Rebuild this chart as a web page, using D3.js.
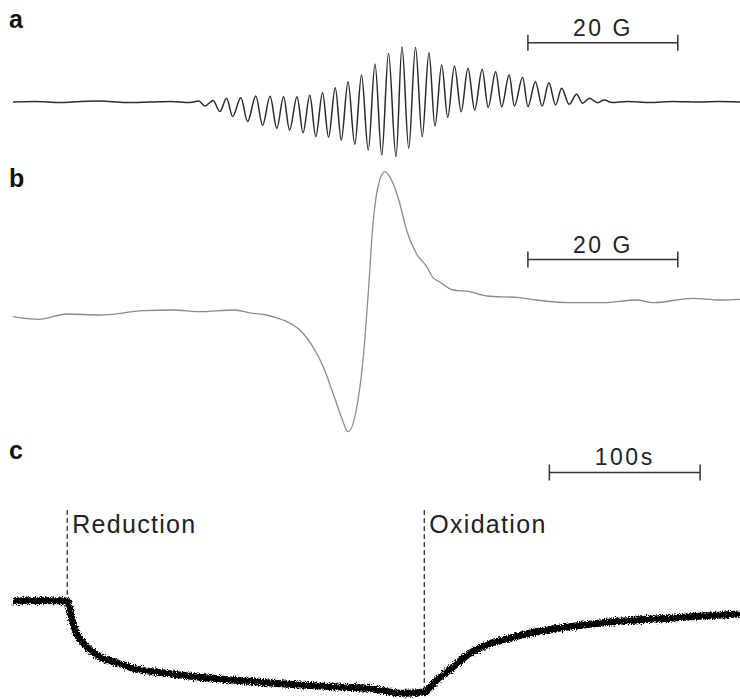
<!DOCTYPE html>
<html>
<head>
<meta charset="utf-8">
<script src="https://cdn.jsdelivr.net/npm/d3@7"></script>
<style>
  body { margin: 0; background: #fff; }
  text { font-family: "Liberation Sans", Arial, Helvetica, sans-serif; }
</style>
</head>
<body>
<svg id="chart"></svg>
<script>
// a: resolved EPR spectrum (field in G, signal in a.u.)
const fieldA = [0, 3, 6.3, 9, 11.6, 15, 18.3, 21, 23.6, 24.8, 25.6, 26.7, 27.6, 28.5, 29.3, 30.4, 31.3, 32.4, 33.3,
  34.3, 35.2, 36.1, 36.9, 37.9, 38.7, 39.6, 40.4, 41.3, 42.1, 43.0, 43.8, 44.7, 45.6, 46.5, 47.4, 48.3, 49.2,
  50.1, 51.1, 51.9, 52.8, 53.7, 54.6, 55.5, 56.3, 57.2, 58.0, 58.9, 59.8, 60.7, 61.6, 62.6, 63.4, 64.4, 65.2,
  66.2, 66.9, 68.0, 68.7, 69.7, 70.6, 71.5, 72.4, 73.2, 74.2, 75.2, 76.0, 76.9, 78.0, 78.9, 79.9, 82, 85, 88,
  91.6, 94, 97];
const signalA = [0, 0.05, -0.05, 0.05, 0.1, -0.05, 0, 0.05, -0.05, 0.1, -0.4, 0.15, -0.95, 0.37, -1.45, 0.43, -1.95, 0.6, -2.35,
  0.57, -2.63, 0.53, -2.8, 0.53, -3.07, 0.67, -3.47, 0.93, -3.53, 1.43, -3.8, 2.03, -4.23, 2.7, -4.8, 3.8, -5.3,
  4.87, -5.47, 5.53, -4.63, 5.47, -3.47, 4.93, -2.4, 3.7, -1.53, 3.6, -0.97, 3.37, -0.8, 3.27, -0.53, 3.03, -0.47,
  2.7, -0.4, 2.47, -0.47, 2.03, -0.4, 1.93, -0.3, 1.37, -0.23, 0.77, -0.13, 0.37, -0.07, 0.2, -0.05, 0.05, -0.05, 0.05,
  0, 0.05, 0];

// b: unresolved EPR spectrum
const fieldB = [0, 3.4, 7.2, 11.6, 17.4, 21.4, 24.9, 29.4, 32.0, 33.8, 36.0, 37.4, 38.7, 40.0, 41.4, 42.7, 43.8, 44.7,
  45.8, 46.7, 47.4, 48.0, 48.7, 49.6, 50.7, 51.6, 52.5, 53.8, 55.2, 56.0, 56.9, 58.7, 60.9, 63.2, 67.6, 69.8,
  74.3, 78.7, 83.2, 85.4, 90.7, 94.3, 97];
const signalB = [-0.67, -0.93, -0.4, -0.5, -0.07, 0, -0.17, 0, -0.33, -0.5, -1.0, -1.5, -2.33, -3.67, -5.67, -8.33, -10.67, -12.17,
  -10.0, -5.0, 1.67, 8.33, 12.33, 13.83, 12.67, 10.67, 8.0, 5.67, 4.33, 3.27, 2.83, 2.0, 1.83, 1.4, 1.23, 1.0,
  0.73, 0.73, 1.0, 0.73, 1.17, 1.0, 1.07];

// c: kinetics (time in s)
const timeC = [0, 17.9, 36.0, 36.7, 39.0, 42.3, 48.9, 57.7, 68.8, 79.8, 102, 124.1, 146.2, 168.3, 190.4, 212.5, 234.7,
  259, 272.9, 281.2, 292.2, 303.2, 314.3, 325.3, 347.5, 369.6, 391.7, 413.9, 436, 458, 482.4];
const signalC = [9.9, 9.95, 9.9, 9.67, 8.0, 6.67, 5.33, 4.33, 3.73, 3.17, 2.67, 2.27, 2.0, 1.73, 1.5, 1.33, 1.17,
  0.67, 0.8, 2.0, 3.33, 4.67, 5.5, 6.0, 6.83, 7.33, 7.73, 8.0, 8.17, 8.4, 8.6];

const events = [{t: 36.0, label: "Reduction"}, {t: 272.9, label: "Oxidation"}];
const panelLabels = ["a", "b", "c"];

const width = 740, height = 699;
const svg = d3.select("#chart").attr("width", width).attr("height", height);

// noisy look of the chart recorder trace in c
const defs = svg.append("defs");
const rough = defs.append("filter").attr("id", "rough")
    .attr("x", "-5%").attr("y", "-20%").attr("width", "110%").attr("height", "140%");
rough.append("feTurbulence").attr("type", "fractalNoise").attr("baseFrequency", "0.9")
    .attr("numOctaves", 2).attr("seed", 3).attr("result", "n");
rough.append("feDisplacementMap").attr("in", "SourceGraphic").attr("in2", "n")
    .attr("scale", 6).attr("xChannelSelector", "R").attr("yChannelSelector", "G");

const xField = d3.scaleLinear().domain([0, 97]).range([13, 740]);
const xTime = d3.scaleLinear().domain([0, 482.4]).range([13, 740]);
const yA = d3.scaleLinear().domain([-6, 6]).range([162, 42]);
const yB = d3.scaleLinear().domain([-13, 14]).range([440, 170]);
const yC = d3.scaleLinear().domain([0, 10]).range([700, 600]);

function trace(xs, ys, x, y) {
  return d3.line()
    .x((d, i) => x(xs[i]))
    .y(d => y(d))
    .curve(d3.curveMonotoneX)(ys);
}

svg.append("path")
  .attr("d", trace(fieldA, signalA, xField, yA))
  .attr("fill", "none").attr("stroke", "#2a2a2a").attr("stroke-width", 1.5);

svg.append("path")
  .attr("d", trace(fieldB, signalB, xField, yB))
  .attr("fill", "none").attr("stroke", "#8a8a8a").attr("stroke-width", 1.3);

svg.append("path")
  .attr("d", trace(timeC, signalC, xTime, yC))
  .attr("fill", "none").attr("stroke", "#000").attr("stroke-width", 7)
  .attr("filter", "url(#rough)");

// event markers
events.forEach((e, i) => {
  const x = xTime(e.t);
  const yEnd = yC(signalC[timeC.indexOf(e.t)]) - 3;
  svg.append("line")
    .attr("x1", x).attr("x2", x).attr("y1", 510).attr("y2", yEnd)
    .attr("stroke", "#222").attr("stroke-width", 1.2).attr("stroke-dasharray", "5,3");
  svg.append("text")
    .attr("x", x + 5).attr("y", 533)
    .attr("font-size", 25).attr("letter-spacing", 1.3).attr("fill", "#222")
    .text(e.label);
});

// scale bars
function scaleBar(x, from, span, y, label, textY) {
  const g = svg.append("g").attr("stroke", "#333").attr("stroke-width", 1.5);
  g.append("line").attr("x1", x(from)).attr("x2", x(from + span)).attr("y1", y).attr("y2", y);
  g.append("line").attr("x1", x(from)).attr("x2", x(from)).attr("y1", y - 8).attr("y2", y + 8);
  g.append("line").attr("x1", x(from + span)).attr("x2", x(from + span)).attr("y1", y - 8).attr("y2", y + 8);
  svg.append("text")
    .attr("x", x(from + span / 2)).attr("y", textY)
    .attr("text-anchor", "middle")
    .attr("font-size", 23).attr("letter-spacing", 2.5).attr("fill", "#222")
    .text(label);
}
scaleBar(xField, 68.7, 20, 42.7, "20 G", 36);
scaleBar(xField, 68.7, 20, 259.5, "20 G", 253);
scaleBar(xTime, 355.9, 100, 472.5, "100s", 465);

svg.selectAll("text.panel")
  .data(panelLabels)
  .join("text")
  .attr("class", "panel")
  .attr("x", 9)
  .attr("y", (d, i) => [28, 187, 459][i])
  .attr("font-size", 25).attr("font-weight", "bold").attr("fill", "#111")
  .text(d => d);
</script>
</body>
</html>
